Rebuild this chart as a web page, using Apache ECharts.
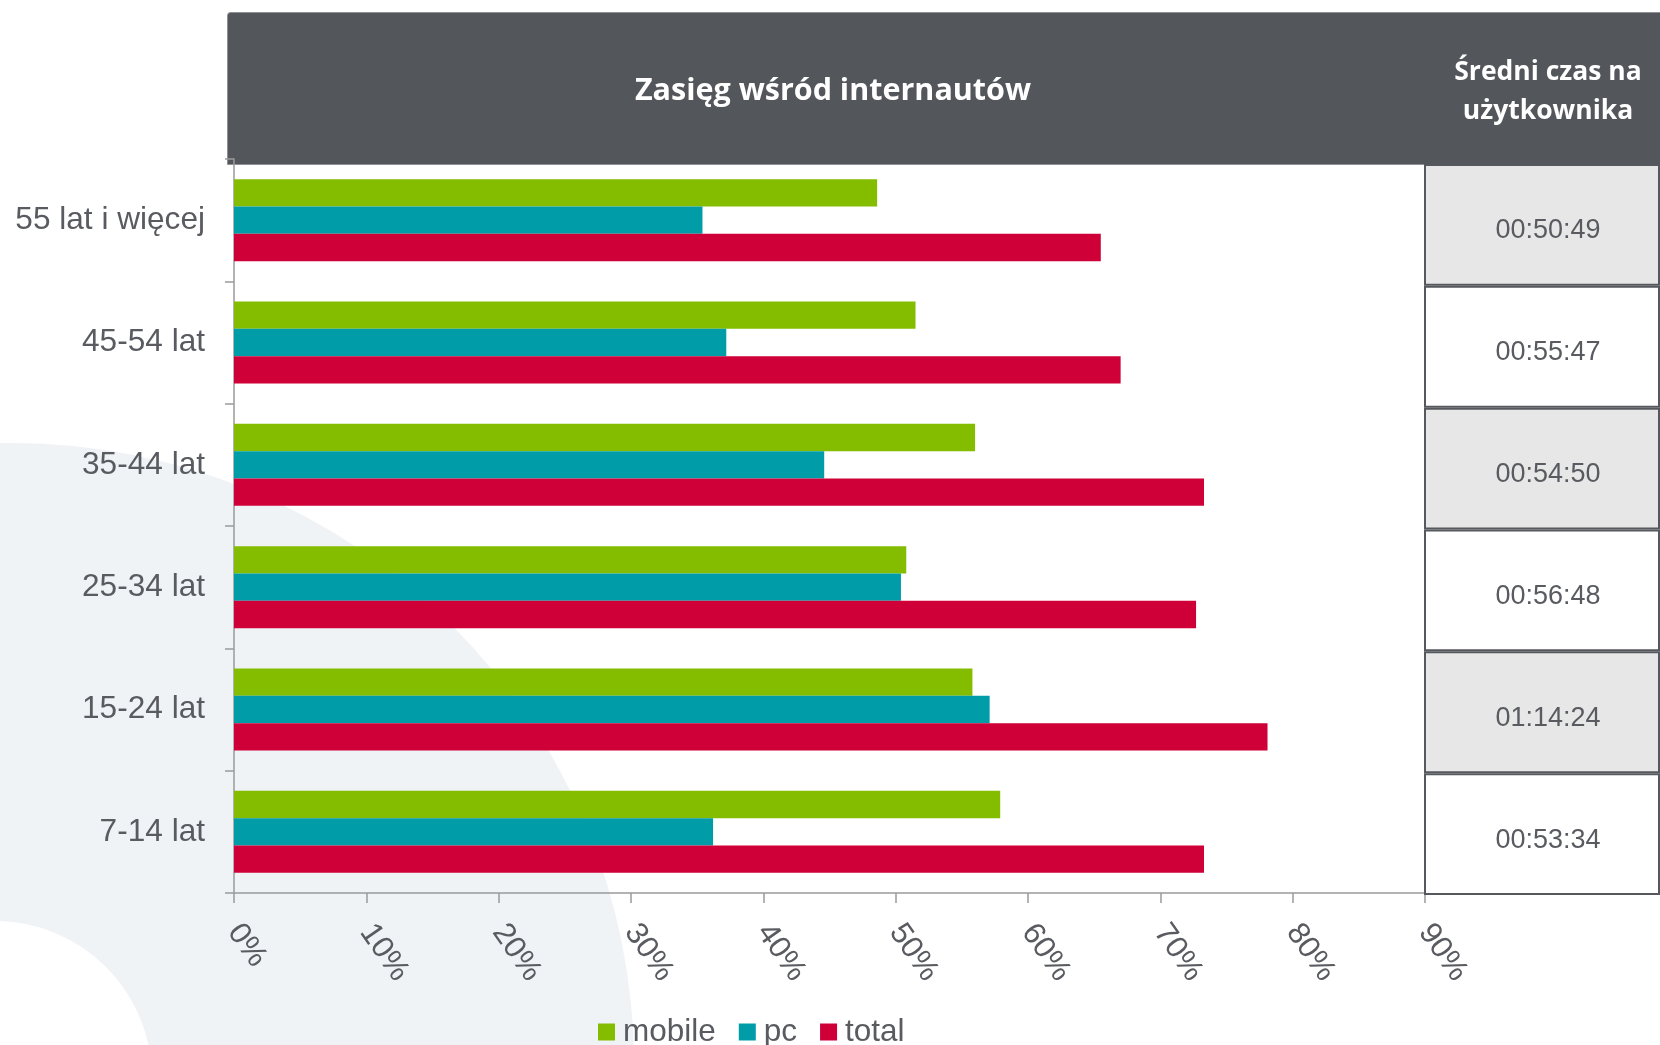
<!DOCTYPE html>
<html><head><meta charset="utf-8">
<script src="https://cdn.jsdelivr.net/npm/echarts@6/dist/echarts.min.js"></script>
<style>html,body{margin:0;padding:0;background:#fff}#c{width:1660px;height:1045px}</style>
</head><body><div id="c"></div>
<script>
// ---- data ----
const categories = ['55 lat i więcej', '45-54 lat', '35-44 lat', '25-34 lat', '15-24 lat', '7-14 lat'];
const seriesNames = ['mobile', 'pc', 'total'];
const mobile = [48.6, 51.5, 56.0, 50.8, 55.8, 57.9];
const pc = [35.4, 37.2, 44.6, 50.4, 57.1, 36.2];
const total = [65.5, 67.0, 73.3, 72.7, 78.1, 73.3];
const avgTime = ['00:50:49', '00:55:47', '00:54:50', '00:56:48', '01:14:24', '00:53:34'];
const headerMain = 'Zasięg wśród internautów';
const headerSide = ['Średni czas na', 'użytkownika'];
const xMin = 0, xMax = 90, xStep = 10;

const COLORS = ['#84bd00', '#009ca8', '#cf0038'];
const TXT = '#595b60';
const AX = '#9a9a9a';

const chart = echarts.init(document.getElementById('c'), null, { renderer: 'canvas' });
const barCommon = {
  type: 'bar', xAxisIndex: 0, yAxisIndex: 0,
  barGap: '0%', barCategoryGap: '33%'
};
const option = {
  backgroundColor: '#ffffff',
  textStyle: { fontFamily: 'Liberation Sans' },
  animation: false,
  graphic: [
    { type: 'circle', z: -10, silent: true, shape: { cx: 12, cy: 1065, r: 622 }, style: { fill: '#eff3f6' } },
    { type: 'circle', z: -9, silent: true, shape: { cx: -5, cy: 1078, r: 157 }, style: { fill: '#ffffff' } },
    { type: 'rect', z: -5, silent: true, shape: { x: 227.5, y: 12.5, width: 1445, height: 152, r: [3, 0, 0, 0] },
      style: { fill: '#53565b', stroke: '#8d9094', lineWidth: 1 } }
  ],
  title: [
    { text: headerMain, left: 828, top: 86, textAlign: 'center', textVerticalAlign: 'middle',
      textStyle: { fontFamily: 'Open Sans', fontWeight: 'bold', fontSize: 30.5, color: '#ffffff' } },
    { text: headerSide.join('\n'), left: 1543, top: 87, textAlign: 'center', textVerticalAlign: 'middle',
      textStyle: { fontFamily: 'Open Sans', fontWeight: 'bold', fontSize: 26.5, lineHeight: 39, color: '#ffffff' } }
  ],
  legend: {
    data: seriesNames, left: 598, top: 1016, itemWidth: 17, itemHeight: 17, itemGap: 23, icon: 'rect',
    padding: 0, textStyle: { fontSize: 31.5, color: TXT, padding: [0, 0, 0, 3] }
  },
  grid: [
    { left: 234, right: 235, top: 159, bottom: 152 },
    { left: 1424, right: -12, top: 164, bottom: 150 }
  ],
  xAxis: [
    { gridIndex: 0, type: 'value', min: xMin, max: xMax, interval: xStep,
      axisLine: { show: true, lineStyle: { color: AX, width: 1.5 } },
      axisTick: { show: true, length: 10, lineStyle: { color: AX, width: 1.5 } },
      splitLine: { show: false },
      axisLabel: { formatter: '{value}%', rotate: -55, margin: 34, fontSize: 31, color: TXT } },
    { gridIndex: 1, type: 'value', min: 0, max: 1, show: false }
  ],
  yAxis: [
    { gridIndex: 0, type: 'category', data: categories, inverse: true,
      axisLine: { show: true, lineStyle: { color: AX, width: 1.5 } },
      axisTick: { show: true, length: 9, lineStyle: { color: AX, width: 1.5 } },
      axisLabel: { fontSize: 31.6, color: TXT, margin: 29 } },
    { gridIndex: 1, type: 'category', data: categories, inverse: true, show: false }
  ],
  series: [
    Object.assign({ name: seriesNames[0], data: mobile, itemStyle: { color: COLORS[0] } }, barCommon),
    Object.assign({ name: seriesNames[1], data: pc, itemStyle: { color: COLORS[1] } }, barCommon),
    Object.assign({ name: seriesNames[2], data: total, itemStyle: { color: COLORS[2] } }, barCommon),
    {
      name: 'czas', type: 'bar', xAxisIndex: 1, yAxisIndex: 1, silent: true,
      barWidth: '100%', z: 1,
      data: avgTime.map((t, i) => ({ value: 1, itemStyle: { color: i % 2 === 0 ? '#e7e7e7' : '#ffffff' } })),
      itemStyle: { borderColor: '#55585d', borderWidth: 2 },
      label: { show: true, position: 'inside', offset: [6, 6], fontSize: 27, color: TXT,
        formatter: p => avgTime[p.dataIndex] }
    }
  ]
};
chart.setOption(option);
</script>
</body></html>
